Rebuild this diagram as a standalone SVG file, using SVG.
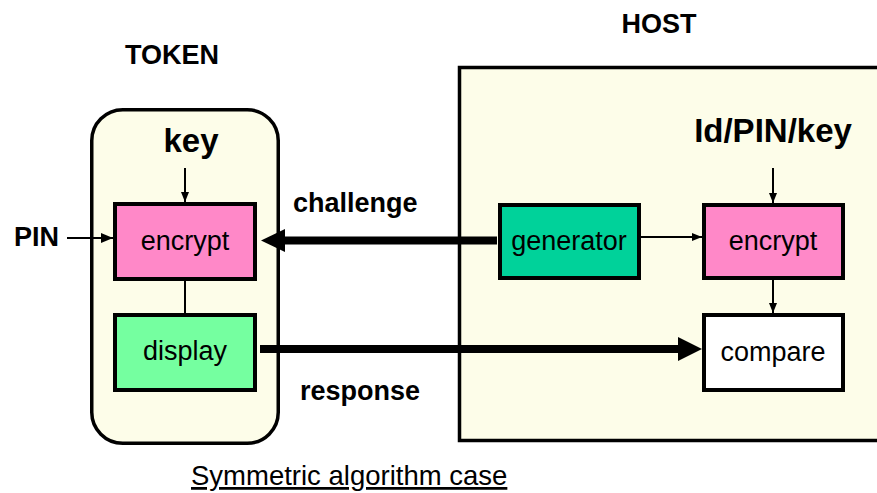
<svg xmlns="http://www.w3.org/2000/svg" width="877" height="493" viewBox="0 0 877 493">
  <style>
    text { font-family: "Liberation Sans", Arial, sans-serif; fill: #000; }
    .title { font-size: 27px; font-weight: bold; }
    .big { font-size: 33px; font-weight: bold; }
    .lbl { font-size: 27px; text-anchor: middle; }
    .cap { font-size: 27.5px; text-decoration: underline; }
    .frame { fill: #fdfde9; stroke: #000; stroke-width: 3.5; }
    .box { stroke: #000; stroke-width: 4; }
    .thin { stroke: #000; stroke-width: 2; fill: none; }
    .thick { stroke: #000; fill: none; }
  </style>
  <defs>
    <marker id="tip" viewBox="0 0 10 10" refX="10" refY="5" markerWidth="10" markerHeight="10" markerUnits="userSpaceOnUse" orient="auto">
      <path d="M0,1 L10,5 L0,9 Z" fill="#000"/>
    </marker>
    <marker id="tip-lg" viewBox="0 0 12 12" refX="12" refY="6" markerWidth="12" markerHeight="12" markerUnits="userSpaceOnUse" orient="auto">
      <path d="M0,1 L12,6 L0,11 Z" fill="#000"/>
    </marker>
  </defs>

  <rect width="877" height="493" fill="#fff"/>

  <!-- section titles -->
  <text class="title" x="172" y="64" text-anchor="middle">TOKEN</text>
  <text class="title" x="659" y="33" text-anchor="middle">HOST</text>

  <!-- token housing -->
  <g id="token">
    <rect class="frame" x="91.75" y="109.75" width="186.5" height="333.5" rx="31" ry="31"/>
    <text class="big" x="191" y="152" text-anchor="middle">key</text>
  </g>

  <!-- host housing -->
  <g id="host">
    <rect class="frame" x="459.5" y="67.5" width="500" height="373" stroke-width="3"/>
    <text class="big" x="773" y="142" text-anchor="middle">Id/PIN/key</text>
  </g>

  <g id="token-encrypt">
    <rect class="box" x="115" y="204" width="140" height="75" fill="#ff88c8"/>
    <text class="lbl" x="185" y="250">encrypt</text>
  </g>

  <g id="token-display">
    <rect class="box" x="115" y="315" width="140" height="75" fill="#75ffa0"/>
    <text class="lbl" x="185" y="360">display</text>
  </g>

  <g id="generator">
    <rect class="box" x="500" y="205" width="139" height="73" fill="#00d29a"/>
    <text class="lbl" x="569" y="250">generator</text>
  </g>

  <g id="host-encrypt">
    <rect class="box" x="704" y="205" width="139" height="73" fill="#ff88c8"/>
    <text class="lbl" x="773" y="250">encrypt</text>
  </g>

  <g id="compare">
    <rect class="box" x="704" y="315" width="139" height="75" fill="#fff"/>
    <text class="lbl" x="773" y="361">compare</text>
  </g>

  <g id="pin">
    <text class="title" x="14" y="246">PIN</text>
  </g>

  <g id="connectors">
    <!-- token side -->
    <line class="thin" x1="185" y1="168" x2="185" y2="202" marker-end="url(#tip)"/>
    <line class="thin" x1="67" y1="238" x2="113" y2="238" stroke-width="3" marker-end="url(#tip-lg)"/>
    <line class="thin" x1="185" y1="281" x2="185" y2="313"/>
    <!-- host side -->
    <line class="thin" x1="641" y1="237" x2="702" y2="237" marker-end="url(#tip)"/>
    <line class="thin" x1="773" y1="168" x2="773" y2="203" marker-end="url(#tip)"/>
    <line class="thin" x1="773" y1="280" x2="773" y2="313" marker-end="url(#tip)"/>
    <!-- challenge: host generator to token encrypt -->
    <line class="thick" x1="497" y1="240.5" x2="284" y2="240.5" stroke-width="8"/>
    <path d="M261,240.5 L285,229 L285,252 Z" fill="#000"/>
    <!-- response: token display to host compare -->
    <line class="thick" x1="260" y1="349" x2="679" y2="349" stroke-width="8"/>
    <path d="M702,349 L678,337 L678,361 Z" fill="#000"/>
  </g>

  <!-- connector labels -->
  <text class="title" x="293" y="212">challenge</text>
  <text class="title" x="300" y="400">response</text>

  <text class="cap" x="191" y="485">Symmetric algorithm case</text>
</svg>
